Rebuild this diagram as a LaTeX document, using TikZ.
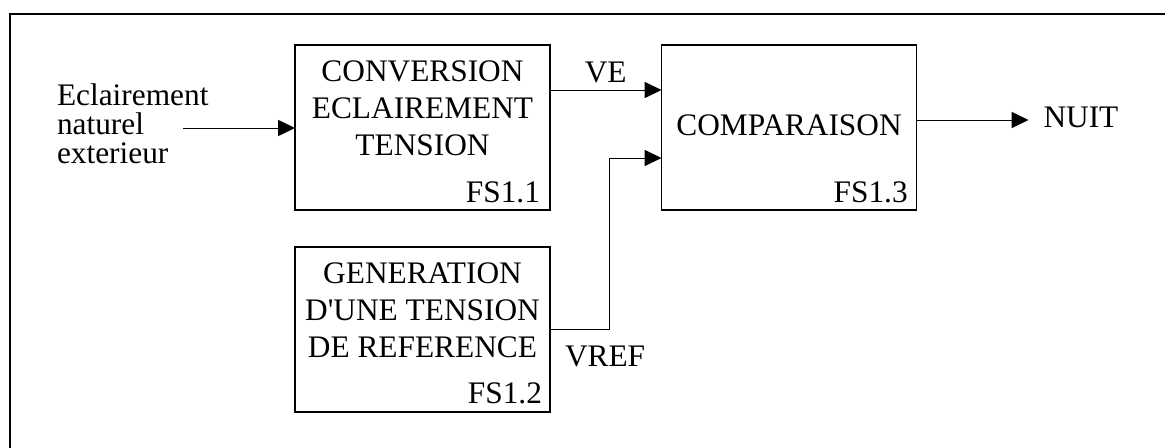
\documentclass[tikz,border=0pt]{standalone}
\usepackage{fontspec}
\setmainfont{Liberation Serif}
\usetikzlibrary{positioning,arrows.meta}

\begin{document}
\begin{tikzpicture}[
  every node/.style={inner sep=0pt, outer sep=0pt},
  block/.style={draw, line width=1.4pt, minimum width=6.375cm, minimum height=4.125cm},
  blocktext/.style={font=\fontsize{22.3}{26.3}\selectfont, align=center},
  fslabel/.style={font=\fontsize{22.3}{26.3}\selectfont, anchor=base east},
  sig/.style={font=\fontsize{22.3}{26.3}\selectfont},
  flow/.style={line width=0.7pt, -{Triangle[length=0.42cm, width=0.4cm]}},
  frame/.style={line width=1.6pt}
]

\useasboundingbox (0,0) rectangle (29.125,-11.2);

% Only the top and left sides of the frame show.
\draw[frame] (0.25,-11.2) |- (29.125,-0.35);

% The three function blocks.
\node[block] (conv) at (10.5625,-3.1875) {};
\node[block] (ref)  at (10.5625,-8.2375) {};
\node[block] (comp) at (19.725,-3.1875) {};

\node[blocktext, below=0.4cm of conv.north] (convtxt) {CONVERSION\\ECLAIREMENT\\TENSION};
\node[blocktext, below=0.4cm of ref.north] (reftxt) {GENERATION\\D\textquotesingle UNE TENSION\\DE REFERENCE};
\node[blocktext, yshift=0.06cm] (comptxt) at (comp.center) {COMPARAISON};

\node[fslabel] (fsconv) at ([xshift=-0.25cm, yshift=0.2cm]conv.south east) {FS1.1};
\node[fslabel] (fsref)  at ([xshift=-0.2cm, yshift=0.22cm]ref.south east) {FS1.2};
\node[fslabel] (fscomp) at ([xshift=-0.22cm, yshift=0.2cm]comp.south east) {FS1.3};

% Input on the left.
\node[sig, font=\fontsize{22.3}{20.6}\selectfont, align=left, anchor=north west] (lum) at (1.425,-2.1)
  {Eclairement\\naturel\\exterieur};
\coordinate (lumout) at (4.575,-3.2);
\draw[flow] (lumout) -- (lumout -| conv.west);

% VE from FS1.1 to FS1.3
\draw[flow] ([yshift=-1.125cm]conv.north east) -- ([yshift=-1.125cm]comp.north west)
  node[sig, midway, anchor=base, yshift=0.2cm] (ve) {VE};

% VREF from FS1.2 to FS1.3
\draw[flow] ([yshift=-2.05cm]ref.north east) -- ++(1.475,0) |- ([yshift=-2.825cm]comp.north west);
\node[sig, anchor=base west] (vref) at ([xshift=0.375cm, yshift=-2.975cm]ref.north east) {VREF};

% Output
\node[sig, anchor=base west] (nuit) at ([xshift=3.175cm, yshift=-2.05cm]comp.north east) {NUIT};
\coordinate (compout) at ([yshift=-1.875cm]comp.north east);
\draw[flow, shorten >=0.375cm] (compout) -- (compout -| nuit.west);

\end{tikzpicture}
\end{document}
